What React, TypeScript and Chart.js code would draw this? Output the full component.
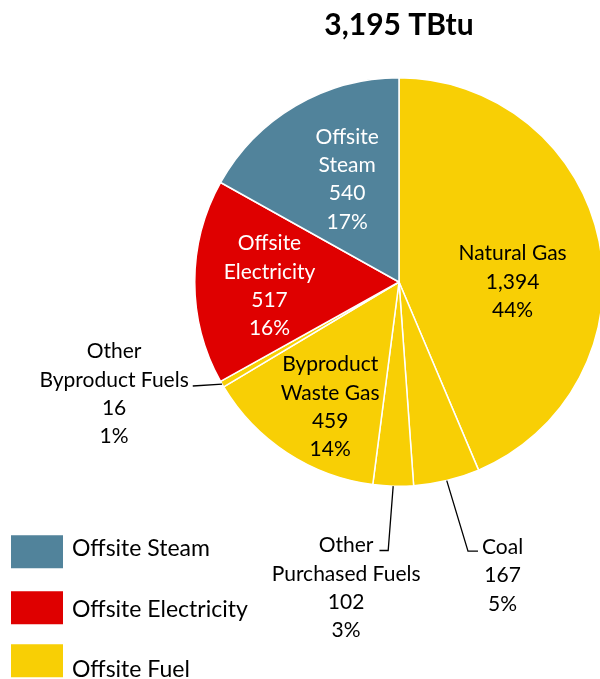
import React, { useEffect, useRef } from "react";
import { Chart, registerables } from "chart.js";

Chart.register(...registerables);

const categories = [
  "Natural Gas",
  "Coal",
  "Other Purchased Fuels",
  "Byproduct Waste Gas",
  "Other Byproduct Fuels",
  "Offsite Electricity",
  "Offsite Steam",
];
const values = [1394, 167, 102, 459, 16, 517, 540];
const percentLabels = ["44%", "5%", "3%", "14%", "1%", "16%", "17%"];
const labelLines = [
  ["Natural Gas"],
  ["Coal"],
  ["Other", "Purchased Fuels"],
  ["Byproduct", "Waste Gas"],
  ["Other", "Byproduct Fuels"],
  ["Offsite", "Electricity"],
  ["Offsite", "Steam"],
];
const groups = ["fuel", "fuel", "fuel", "fuel", "fuel", "electricity", "steam"];
const legendLabels = ["Offsite Steam", "Offsite Electricity", "Offsite Fuel"];
const legendGroups = ["steam", "electricity", "fuel"];
const titleText = "3,195 TBtu";

const groupColors: Record<string, string> = {
  steam: "#51839B",
  electricity: "#DF0000",
  fuel: "#F8CF05",
};
const groupTextColors: Record<string, string> = {
  steam: "#FFFFFF",
  electricity: "#FFFFFF",
  fuel: "#000000",
};

// label placement relative to pie center, in units of radius
const labelPlacement = [
  { dx: 0.556, dy: 0.0, leader: "none" },
  { dx: 0.507, dy: 1.437, leader: "right" },
  { dx: -0.259, dy: 1.498, leader: "left" },
  { dx: -0.337, dy: 0.612, leader: "none" },
  { dx: -1.395, dy: 0.549, leader: "side" },
  { dx: -0.634, dy: 0.02, leader: "none" },
  { dx: -0.254, dy: -0.502, leader: "none" },
];

// legend layout relative to bottom of pie
const legendBoxOffsets = [49, 105, 158];
const legendTextOffsets = [62, 123, 183];

const FONT = "Lato, 'Open Sans', sans-serif";
const LABEL_SIZE = 21;
const LINE_H = 28.3;

const labelsPlugin = {
  id: "customLabels",
  afterDraw(chart: any) {
    const ctx = chart.ctx as CanvasRenderingContext2D;
    const meta = chart.getDatasetMeta(0);
    const arc0 = meta.data[0] as any;
    const cx = arc0.x;
    const cy = arc0.y;
    const R = arc0.outerRadius;
    ctx.save();
    ctx.font = `${LABEL_SIZE}px ${FONT}`;
    ctx.textAlign = "center";
    ctx.textBaseline = "middle";
    meta.data.forEach((arc: any, i: number) => {
      const p = labelPlacement[i];
      const lines = [
        ...labelLines[i],
        values[i].toLocaleString("en-US"),
        percentLabels[i],
      ];
      const lx = cx + p.dx * R;
      const ly = cy + p.dy * R;
      const top = ly - ((lines.length - 1) * LINE_H) / 2;
      ctx.fillStyle = groupTextColors[groups[i]];
      lines.forEach((t, k) => ctx.fillText(t, lx, top + k * LINE_H));
      if (p.leader !== "none") {
        const mid = (arc.startAngle + arc.endAngle) / 2;
        const ax = cx + Math.cos(mid) * R;
        const ay = cy + Math.sin(mid) * R;
        ctx.strokeStyle = "#000000";
        ctx.lineWidth = 1.3;
        ctx.beginPath();
        ctx.moveTo(ax, ay);
        if (p.leader === "right") {
          const w = ctx.measureText(lines[0]).width;
          const ex = lx - w / 2 - 4;
          const ey = top + 4;
          ctx.lineTo(ex - 10, ey);
          ctx.lineTo(ex, ey);
        } else if (p.leader === "left") {
          const w = ctx.measureText(lines[0]).width;
          const ex = lx + w / 2 + 6;
          const ey = top + 5;
          ctx.lineTo(ax - 5, ey);
          ctx.lineTo(ex, ey);
        } else if (p.leader === "side") {
          const w = ctx.measureText(lines[1]).width;
          const ex = lx + w / 2 + 4;
          const ey = top + LINE_H + 6;
          ctx.lineTo(ex, ey);
        }
        ctx.stroke();
      }
    });

    // title
    ctx.fillStyle = "#000000";
    ctx.font = `bold 30px ${FONT}`;
    ctx.textAlign = "center";
    ctx.fillText(titleText, cx, cy - R - 52);

    // legend
    ctx.font = `23px ${FONT}`;
    ctx.textAlign = "left";
    const base = cy + R;
    legendLabels.forEach((lab, k) => {
      ctx.fillStyle = groupColors[legendGroups[k]];
      ctx.fillRect(11, base + legendBoxOffsets[k], 52, 33);
      ctx.fillStyle = "#000000";
      ctx.fillText(lab, 72, base + legendTextOffsets[k]);
    });
    ctx.restore();
  },
};

export default function App() {
  const ref = useRef<HTMLCanvasElement>(null);
  useEffect(() => {
    if (!ref.current) return;
    const chart = new Chart(ref.current, {
      type: "pie",
      data: {
        labels: categories,
        datasets: [
          {
            data: values,
            backgroundColor: groups.map((g) => groupColors[g]),
            borderColor: "#FFFFFF",
            borderWidth: 1.5,
          },
        ],
      },
      options: {
        responsive: false,
        animation: false,
        devicePixelRatio: 1,
        layout: { padding: { left: 194, right: 16, top: 77, bottom: 192 } },
        plugins: {
          legend: { display: false },
          tooltip: { enabled: false },
        },
      },
      plugins: [labelsPlugin],
    });
    return () => chart.destroy();
  }, []);
  return (
    <div
      style={{
        position: "absolute",
        left: 0,
        top: 0,
        width: 600,
        height: 679,
        overflow: "hidden",
        background: "#FFFFFF",
      }}
    >
      <canvas ref={ref} width={620} height={679} style={{ width: 620, height: 679 }} />
    </div>
  );
}
